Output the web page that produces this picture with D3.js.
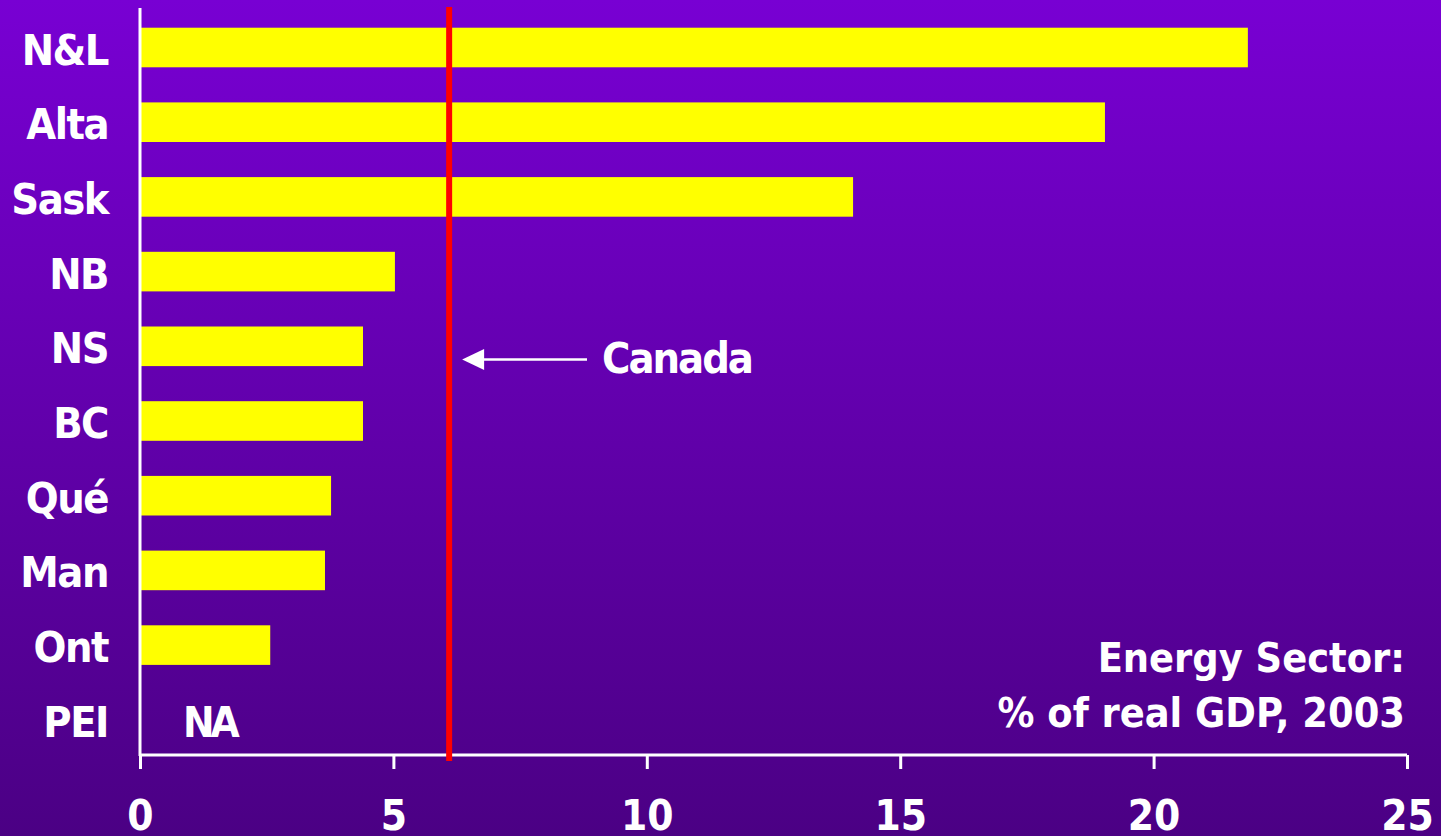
<!DOCTYPE html>
<html>
<head>
<meta charset="utf-8">
<script src="https://cdn.jsdelivr.net/npm/d3@7/dist/d3.min.js"></script>
<style>
  html, body { margin: 0; padding: 0; background: #5f00aa; }
  svg { display: block; }
  text { font-family: "DejaVu Sans Condensed", "DejaVu Sans", sans-serif; font-weight: bold; fill: #ffffff; }
</style>
</head>
<body>
<svg id="chart" width="1441" height="836"></svg>
<script>
// Provinces, top to bottom
const provinces = ["N&L", "Alta", "Sask", "NB", "NS", "BC", "Qué", "Man", "Ont", "PEI"];
// Energy sector share of real GDP, 2003 (%); PEI not available
const energyShare = [21.86, 19.04, 14.07, 5.03, 4.40, 4.40, 3.77, 3.65, 2.57, null];
// National average
const canadaShare = 6.1;
const xTicks = [0, 5, 10, 15, 20, 25];
const titleLines = ["Energy Sector:", "% of real GDP, 2003"];

const W = 1441, H = 836;
const svg = d3.select("#chart");

// Background gradient
const defs = svg.append("defs");
const grad = defs.append("linearGradient").attr("id", "bg").attr("x1", 0).attr("y1", 0).attr("x2", 0).attr("y2", 1);
grad.append("stop").attr("offset", "0%").attr("stop-color", "#7800d3");
grad.append("stop").attr("offset", "100%").attr("stop-color", "#4b0084");
svg.append("rect").attr("width", W).attr("height", H).attr("fill", "url(#bg)");

const x = d3.scaleLinear().domain([0, 25]).range([140, 1407]);
const y = d3.scaleBand().domain(provinces).range([10.15, 757.15])
  .paddingInner(0.47).paddingOuter(0.235);

const axisY = 755;

// Bars
const rows = provinces.map((p, i) => ({ name: p, value: energyShare[i] }));
svg.append("g").selectAll("rect")
  .data(rows.filter(d => d.value != null))
  .join("rect")
  .attr("x", x(0))
  .attr("y", d => y(d.name))
  .attr("width", d => x(d.value) - x(0))
  .attr("height", y.bandwidth())
  .attr("fill", "#ffff00");

// Missing value marker
rows.filter(d => d.value == null).forEach(d => {
  svg.append("text")
    .attr("x", x(0) + 43)
    .attr("y", y(d.name) + y.bandwidth() / 2 + 17)
    .attr("font-size", 42)
    .attr("letter-spacing", -4)
    .text("NA");
});

// Category labels
svg.append("g").selectAll("text")
  .data(rows)
  .join("text")
  .attr("x", 108)
  .attr("y", d => y(d.name) + y.bandwidth() / 2 + 17)
  .attr("text-anchor", "end")
  .attr("font-size", 43)
  .attr("letter-spacing", -1.5)
  .text(d => d.name);

// X axis
const xAxis = d3.axisBottom(x).tickValues(xTicks).tickSize(14).tickPadding(31).tickFormat(d3.format("d"));
const gx = svg.append("g").attr("transform", `translate(0,${axisY})`).call(xAxis);
gx.select(".domain").attr("stroke", "#fff").attr("stroke-width", 3).attr("d", `M${x(0)},0H${x(25)}`);
gx.selectAll(".tick line").attr("stroke", "#fff").attr("stroke-width", 3);
gx.selectAll(".tick text")
  .attr("fill", "#fff")
  .attr("font-size", 42)
  .attr("font-family", "DejaVu Sans Condensed, DejaVu Sans, sans-serif")
  .attr("font-weight", "bold")
  .attr("dy", "0.71em");

// Y axis line
svg.append("line")
  .attr("x1", x(0)).attr("x2", x(0))
  .attr("y1", 8).attr("y2", axisY + 1)
  .attr("stroke", "#fff").attr("stroke-width", 3);

// Canada reference line
svg.append("line")
  .attr("x1", x(canadaShare)).attr("x2", x(canadaShare))
  .attr("y1", 7).attr("y2", 761)
  .attr("stroke", "#ff0000").attr("stroke-width", 6);

// Arrow pointing to the reference line
const arrowY = 359.5;
const tipX = x(canadaShare) + 13;
svg.append("line")
  .attr("x1", tipX + 18).attr("x2", 587)
  .attr("y1", arrowY).attr("y2", arrowY)
  .attr("stroke", "#fff").attr("stroke-width", 2.5);
svg.append("path")
  .attr("d", `M${tipX},${arrowY}L${tipX + 22},${arrowY - 10.5}L${tipX + 22},${arrowY + 10.5}Z`)
  .attr("fill", "#fff");
svg.append("text")
  .attr("x", 602).attr("y", 373)
  .attr("font-size", 43)
  .attr("letter-spacing", -2)
  .text("Canada");

// Chart title, bottom right
svg.append("g").selectAll("text")
  .data(titleLines)
  .join("text")
  .attr("x", 1405)
  .attr("y", (d, i) => 672 + i * 55)
  .attr("text-anchor", "end")
  .attr("font-size", 41)
  .attr("letter-spacing", 0)
  .text(d => d);
</script>
</body>
</html>
